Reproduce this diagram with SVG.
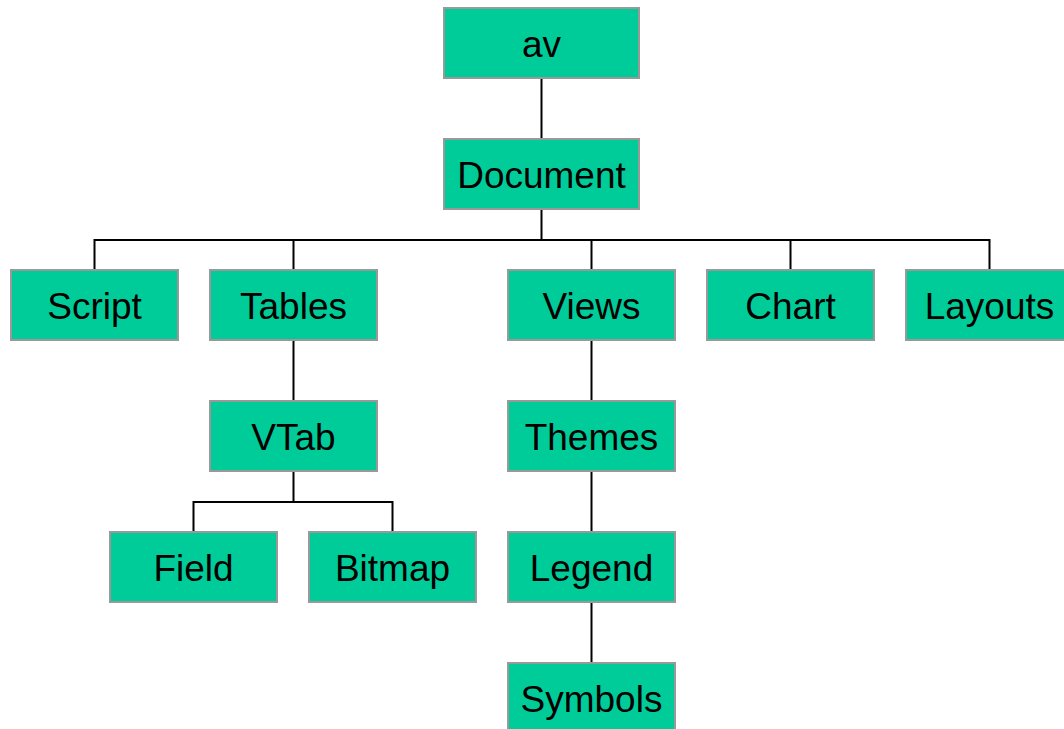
<svg xmlns="http://www.w3.org/2000/svg" width="1064" height="729" viewBox="0 0 1064 729">
<style>
.n rect{fill:#00cc99;stroke:#999999;stroke-width:2}
.n text{font-family:"Liberation Sans",Arial,sans-serif;font-size:37px;fill:#000;text-anchor:middle}
.c path{fill:none;stroke:#000;stroke-width:2}
</style>
<rect width="1064" height="729" fill="#fff"/>
<g class="c">
<path d="M541.5 78V139"/>
<path d="M541.5 209V240M94.5 270V240H989.5V270M293.5 240V270M591.5 240V270M790.5 240V270"/>
<path d="M293.5 340V401"/>
<path d="M293.5 471V502M193.5 532V502H392.5V532"/>
<path d="M591.5 340V401M591.5 471V532M591.5 602V663"/>
</g>
<g id="av" class="n"><rect x="444" y="8" width="195" height="70"/><text x="541.5" y="57">av</text></g>
<g id="document" class="n"><rect x="444" y="139" width="195" height="70"/><text x="541.5" y="188">Document</text></g>
<g id="script" class="n"><rect x="11" y="270" width="167" height="70"/><text x="94.5" y="319">Script</text></g>
<g id="tables" class="n"><rect x="210" y="270" width="167" height="70"/><text x="293.5" y="319">Tables</text></g>
<g id="views" class="n"><rect x="508" y="270" width="167" height="70"/><text x="591.5" y="319">Views</text></g>
<g id="chart" class="n"><rect x="707" y="270" width="167" height="70"/><text x="790.5" y="319">Chart</text></g>
<g id="layouts" class="n"><rect x="906" y="270" width="167" height="70"/><text x="989.5" y="319">Layouts</text></g>
<g id="vtab" class="n"><rect x="210" y="401" width="167" height="70"/><text x="293.5" y="450">VTab</text></g>
<g id="themes" class="n"><rect x="508" y="401" width="167" height="70"/><text x="591.5" y="450">Themes</text></g>
<g id="field" class="n"><rect x="110" y="532" width="167" height="70"/><text x="193.5" y="581">Field</text></g>
<g id="bitmap" class="n"><rect x="309" y="532" width="167" height="70"/><text x="392.5" y="581">Bitmap</text></g>
<g id="legend" class="n"><rect x="508" y="532" width="167" height="70"/><text x="591.5" y="581">Legend</text></g>
<g id="symbols" class="n"><rect x="508" y="663" width="167" height="70"/><text x="591.5" y="712">Symbols</text></g>
</svg>
